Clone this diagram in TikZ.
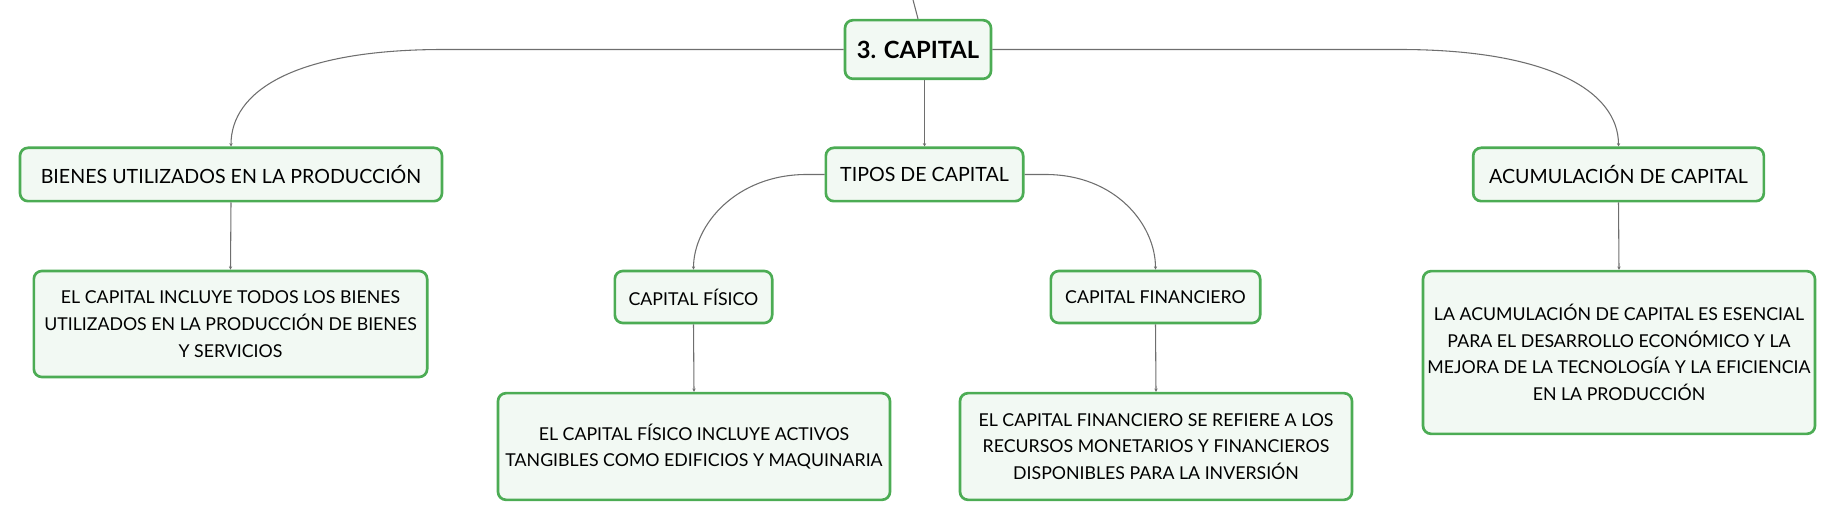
\documentclass[tikz,border=0pt]{standalone}
\usepackage{fontspec}
\setmainfont{Lato}
\usepackage{tikz}
\usetikzlibrary{positioning, arrows.meta, calc}

\definecolor{boxgreen}{RGB}{76,172,84}
\definecolor{boxfill}{RGB}{242,249,243}
\definecolor{linkgray}{RGB}{110,110,110}

\begin{document}
\begin{tikzpicture}[x=0.75pt, y=-0.75pt,
    card/.style={draw=boxgreen, line width=2pt, fill=boxfill, rounded corners=6pt,
                 align=center, inner sep=2pt, font=\fontsize{13.3}{20}\selectfont},
    branchcard/.style={card, font=\fontsize{14.7}{20}\selectfont},
    topcard/.style={card, font=\fontsize{17.8}{20}\selectfont\bfseries},
    link/.style={draw=linkgray, line width=0.8pt, -{Stealth[length=2.5pt, width=2.5pt]}}]
  \useasboundingbox (0,0) rectangle (1836,520);

  % main topic
  \node[topcard, minimum width=109.5pt, minimum height=44pt] (cap) at (918,49.5) {3. CAPITAL};
  \coordinate (parent) at (912,-4);

  % first level
  \node[branchcard, minimum width=316.5pt, minimum height=40pt] (bienes) at (231,174.5) {BIENES UTILIZADOS EN LA PRODUCCIÓN};
  \node[branchcard, minimum width=148pt, minimum height=40pt] (tipos) at (924.5,174.5) {TIPOS DE CAPITAL};
  \node[branchcard, minimum width=218pt, minimum height=40pt] (acum) at (1618.5,174.5) {ACUMULACIÓN DE CAPITAL};

  % second level
  \node[card, minimum width=295pt, minimum height=79.5pt] (incl) at (230.5,324) {EL CAPITAL INCLUYE TODOS LOS BIENES\\UTILIZADOS EN LA PRODUCCIÓN DE BIENES\\Y SERVICIOS};
  \node[card, minimum width=118pt, minimum height=39pt] (fis) at (693.5,297) {CAPITAL FÍSICO};
  \node[card, minimum width=157pt, minimum height=39pt] (fin) at (1155.5,297) {CAPITAL FINANCIERO};
  \node[card, minimum width=294pt, minimum height=122pt] (acumtxt) at (1619,352.5) {LA ACUMULACIÓN DE CAPITAL ES ESENCIAL\\PARA EL DESARROLLO ECONÓMICO Y LA\\MEJORA DE LA TECNOLOGÍA Y LA EFICIENCIA\\EN LA PRODUCCIÓN};

  % third level
  \node[card, minimum width=294pt, minimum height=80pt] (fistxt) at (694,446.5) {EL CAPITAL FÍSICO INCLUYE ACTIVOS\\TANGIBLES COMO EDIFICIOS Y MAQUINARIA};
  \node[card, minimum width=294pt, minimum height=80pt] (fintxt) at (1156,446.5) {EL CAPITAL FINANCIERO SE REFIERE A LOS\\RECURSOS MONETARIOS Y FINANCIEROS\\DISPONIBLES PARA LA INVERSIÓN};

  % connectors
  \draw[linkgray, line width=0.8pt] (parent) -- (cap.north);
  \draw[link] (cap.west) -- ++(-400,0) .. controls ++(-150,0) and ++(0,-55) .. (bienes.north);
  \draw[link] (cap.east) -- ++(407,0) .. controls ++(150,0) and ++(0,-55) .. (acum.north);
  \draw[link] (tipos.north |- cap.south) -- (tipos.north);
  \draw[link] (tipos.west) -- ++(-18,0) .. controls ++(-70,0) and ++(0,-45) .. (fis.north);
  \draw[link] (tipos.east) -- ++(21,0) .. controls ++(70,0) and ++(0,-45) .. (fin.north);
  \draw[link] (bienes.south) -- (incl.north);
  \draw[link] (fis.south) -- (fistxt.north);
  \draw[link] (fin.south) -- (fintxt.north);
  \draw[link] (acum.south) -- (acumtxt.north);
\end{tikzpicture}
\end{document}
